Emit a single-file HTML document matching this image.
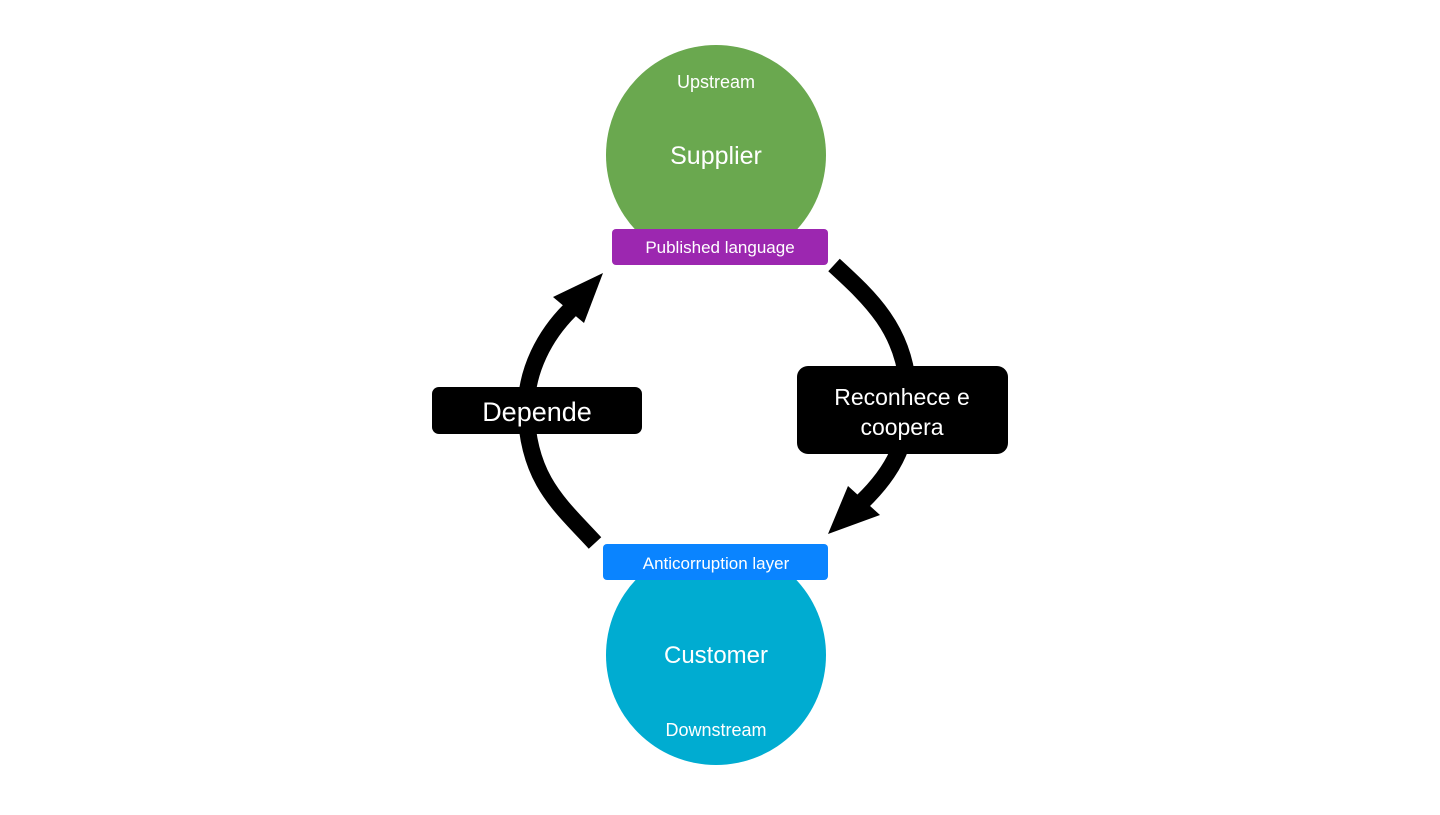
<!DOCTYPE html>
<html><head><style>
body{margin:0;width:1440px;height:810px;background:#fff;overflow:hidden;font-family:"Liberation Sans",sans-serif}
</style></head><body>
<svg width="1440" height="810" viewBox="0 0 1440 810" xmlns="http://www.w3.org/2000/svg" font-family="Liberation Sans, sans-serif">
<circle cx="716" cy="155" r="110" fill="#6aa84f"/>
<circle cx="716" cy="655" r="110" fill="#00acd1"/>
<text x="716" y="88" fill="#fff" font-size="18" text-anchor="middle">Upstream</text>
<text x="716" y="164" fill="#fff" font-size="25" text-anchor="middle">Supplier</text>
<text x="716" y="663" fill="#fff" font-size="24" text-anchor="middle">Customer</text>
<text x="716" y="736" fill="#fff" font-size="18" text-anchor="middle">Downstream</text>
<rect x="612" y="229" width="216" height="36" rx="4" fill="#9c27b0"/>
<text x="720" y="253" fill="#fff" font-size="17" text-anchor="middle">Published language</text>
<rect x="603" y="544" width="225" height="36" rx="4" fill="#0a84ff"/>
<text x="716" y="569" fill="#fff" font-size="17" text-anchor="middle">Anticorruption layer</text>
<path d="M595,543 C560,505 528,480 526,410 C526,370 545,335 570,310" fill="none" stroke="#000" stroke-width="17"/>
<polygon points="603,273 553,297 584,323" fill="#000"/>
<path d="M834,265 C870,298 905,330 908,390 C910,440 895,470 862,502" fill="none" stroke="#000" stroke-width="17"/>
<polygon points="828,534 848,486 880,515" fill="#000"/>
<rect x="432" y="387" width="210" height="47" rx="7" fill="#000"/>
<text x="537" y="421" fill="#fff" font-size="27" text-anchor="middle">Depende</text>
<rect x="797" y="366" width="211" height="88" rx="11" fill="#000"/>
<text x="902" y="405" fill="#fff" font-size="23" text-anchor="middle">Reconhece e</text>
<text x="902" y="435" fill="#fff" font-size="23" text-anchor="middle">coopera</text>
</svg>
</body></html>
